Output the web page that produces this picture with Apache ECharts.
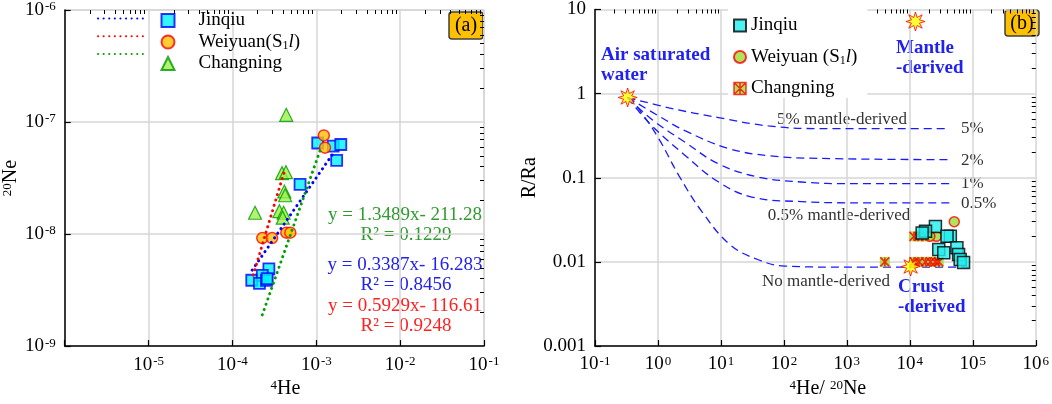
<!DOCTYPE html>
<html><head><meta charset="utf-8">
<script src="https://cdn.jsdelivr.net/npm/echarts@6/dist/echarts.min.js"></script>
<style>html,body{margin:0;padding:0;background:#fff}#c{width:1052px;height:404px}</style>
</head><body><div id="c"></div>
<script>
const FONT = 'Liberation Serif';

// ---------- Panel (a): 20Ne vs 4He ----------
const aJinqiu = [[1.04e-3,6.5e-8],[1.59e-3,6.1e-8],[1.96e-3,6.3e-8],[1.75e-3,4.55e-8],[6.4e-4,2.78e-8],
  [2.72e-4,4.9e-9],[1.7e-4,3.87e-9],[2.27e-4,4.28e-9],[2.1e-4,3.63e-9],[2.55e-4,3.87e-9],[2.6e-4,4.0e-9]];
const aWeiyuan = [[1.23e-3,7.6e-8],[1.27e-3,5.9e-8],[2.27e-4,9.2e-9],[2.97e-4,9.2e-9],[4.39e-4,1.03e-8],[4.9e-4,1.03e-8]];
const aChangning = [[4.38e-4,1.16e-7],[3.9e-4,3.5e-8],[4.35e-4,3.57e-8],[4.16e-4,2.4e-8],[4.25e-4,2.22e-8],
  [1.86e-4,1.55e-8],[3.63e-4,1.6e-8],[4.08e-4,1.55e-8],[3.98e-4,1.4e-8]];
const aFitJinqiu = [[1.72e-4,4.77e-9],[1.56e-3,5.15e-8]];
const aFitWeiyuan = [[1.77e-4,4.3e-9],[4.27e-4,3.87e-8]];
const aFitChangning = [[2.27e-4,1.9e-9],[1.14e-3,5.9e-8]];
const aXExp = [-6,-5,-4,-3,-2,-1];
const aYExp = [-9,-8,-7,-6];
const aEquations = [
  ['y = 1.3489x- 211.28','R\u00B2 = 0.1229','#2f9a2f'],
  ['y = 0.3387x- 16.283','R\u00B2 = 0.8456','#2222ee'],
  ['y = 0.5929x- 116.61','R\u00B2 = 0.9248','#ff2020']
];

// ---------- Panel (b): R/Ra vs 4He/20Ne ----------
const bJinqiu = [[25500,0.0264],[17740,0.0231],[15700,0.022],[44000,0.0201],[39000,0.0201],[28800,0.014],
  [34600,0.0128],[56000,0.0147],[59500,0.0122],[63100,0.0107],[71400,0.0098]];
const bWeiyuan = [[50800,0.030],[26400,0.0201],[20800,0.0201]];
const bChangning = [[11640,0.0201],[13970,0.0201],[17740,0.0201],[4010,0.01],[11640,0.01],[13970,0.01],
  [17740,0.01],[21300,0.01],[25500,0.01],[28800,0.01]];
const bEndMembers = [[0.33,0.9],[12300,7.2],[10300,0.0088]];
const bCurve5 = [[0.33,0.9],[1.49,0.678],[9.19,0.518],[56.6,0.413],[348,0.384],[41800,0.384]];
const bCurve2 = [[0.33,0.9],[1.04,0.54],[2.73,0.36],[13.2,0.223],[56.6,0.183],[348,0.17],[46000,0.164]];
const bCurve1 = [[0.33,0.9],[0.81,0.49],[2.73,0.263],[9.19,0.146],[39.3,0.102],[190,0.089],[1170,0.085],[44000,0.085]];
const bCurve05 = [[0.33,0.9],[0.72,0.45],[2.73,0.183],[9.19,0.089],[30.9,0.059],[190,0.052],[1170,0.0504],[44000,0.0504]];
const bCurve0 = [[0.33,0.9],[0.5,0.65],[1.04,0.288],[2.15,0.106],[5.01,0.0394],[14,0.016],[39.3,0.0106],[104,0.0089],[1170,0.00865],[97500,0.00865]];
const bXExp = [-1,0,1,2,3,4,5,6];
const bYLabels = ['0.001','0.01','0.1','1','10'];

// ---------- helpers ----------
function minorTicks(lo, hi) {
  const a = [];
  for (let e = lo; e < hi; e++) for (let m = 2; m <= 9; m++) a.push(+(m * Math.pow(10, e)).toPrecision(3));
  return a;
}
const supRich = { sup: { fontSize: 13, verticalAlign: 'top', fontFamily: FONT, color: '#000', padding: [0, 0, 0, 1] } };
const expFmt = (hideExp) => (v) => {
  const e = Math.round(Math.log10(v));
  return e === hideExp ? '' : '10{sup|' + e + '}';
};
function mainAxis(grid, min, max, fmt, name, nameGap, namePad) {
  return {
    gridIndex: grid, type: 'log', logBase: 10, min: min, max: max,
    axisLine: { show: true, lineStyle: { color: '#000', width: 1.5 } },
    axisTick: { show: true, inside: true, length: 6, lineStyle: { color: '#000', width: 1.2 } },
    axisLabel: { formatter: fmt, fontFamily: FONT, fontSize: 19, color: '#000', margin: 9, rich: supRich },
    splitLine: { show: true, lineStyle: { color: '#d6d6d6', width: 1.5 } },
    name: name, nameLocation: 'middle', nameGap: nameGap,
    nameTextStyle: { fontFamily: FONT, fontSize: 20, color: '#000', padding: namePad,
      rich: { sup: { fontSize: 13, verticalAlign: 'top', fontFamily: FONT, color: '#000' } } }
  };
}
function minorAxis(grid, min, max, ticks) {
  return {
    gridIndex: grid, type: 'log', logBase: 10, min: min, max: max,
    axisLine: { show: false }, axisLabel: { show: false }, splitLine: { show: false },
    axisTick: { show: true, inside: true, length: 4, customValues: ticks, lineStyle: { color: '#000', width: 1 } }
  };
}
const STAR = (() => {
  let d = '';
  for (let k = 0; k < 16; k++) {
    const ang = (k * 22.5 - 90) * Math.PI / 180;
    const r = k % 2 === 0 ? 10 : 4.6;
    d += (k === 0 ? 'M' : 'L') + (10 + r * Math.cos(ang)).toFixed(2) + ',' + (10 + r * Math.sin(ang)).toFixed(2);
  }
  return 'path://' + d + 'Z';
})();
const ASTER = 'path://M0,0L10,10M10,0L0,10M5,0L5,10';
const ASTER_SQ = 'path://M0,0L10,0L10,10L0,10ZM0,0L10,10M10,0L0,10M5,0L5,10';

const dotted = (c) => ({ color: c, width: 3, type: [0.1, 5.5], cap: 'round' });
const dashed = { color: '#1a1aff', width: 1.3, type: [8, 5] };
const curve = (name, data) => ({ name: name, type: 'line', xAxisIndex: 2, yAxisIndex: 2, data: data,
  symbol: 'none', smooth: 0.4, lineStyle: dashed, silent: true, z: 2 });

const legendFmt = {
  'Jinqiu': 'Jinqiu', 'Weiyuan': 'Weiyuan(S{sub|1}{it|l})', 'Changning': 'Changning',
  'Jinqiu ': 'Jinqiu', 'Weiyuan ': 'Weiyuan (S{sub|1}{it|l})', 'Changning ': 'Changning'
};
const legendRich = { sub: { fontSize: 12, fontFamily: FONT, verticalAlign: 'bottom', color: '#000' },
  it: { fontSize: 19, fontFamily: FONT, fontStyle: 'italic', color: '#000' } };
const legendText = { fontFamily: FONT, fontSize: 19, lineHeight: 19, color: '#000', rich: legendRich };
const legendTextPad = { fontFamily: FONT, fontSize: 19, lineHeight: 19, color: '#000', rich: legendRich, padding: [0, 0, 0, 19] };

const txt = (t, x, y, opts) => ({ type: 'text', silent: true, style: Object.assign({ text: t, x: x, y: y,
  font: '18px "Liberation Serif"', fill: '#000', textAlign: 'center', textVerticalAlign: 'middle' }, opts || {}) });
const blueBold = { font: 'bold 19px "Liberation Serif"', fill: '#2222ee', textAlign: 'left' };
const gray = { font: '17px "Liberation Serif"', fill: '#333' };

const graphics = [];
aEquations.forEach((eq, i) => {
  const yy = [215, 265, 306][i];
  graphics.push(txt(eq[0], 405, yy, { fill: eq[2], font: '19px "Liberation Serif"' }));
  graphics.push(txt(eq[1], 406, yy + 20, { fill: eq[2], font: '19px "Liberation Serif"' }));
});
graphics.push({ type: 'rect', shape: { x: 449, y: 12, width: 34, height: 27, r: 3 },
  style: { fill: '#ffc000', stroke: '#404040', lineWidth: 1.5 } });
graphics.push(txt('(a)', 466, 26, { font: '20px "Liberation Serif"' }));
graphics.push({ type: 'rect', shape: { x: 1005, y: 10, width: 34, height: 26, r: 3 },
  style: { fill: '#ffc000', stroke: '#404040', lineWidth: 1.5 } });
graphics.push(txt('(b)', 1022, 23.5, { font: '20px "Liberation Serif"' }));
graphics.push(txt('Air saturated', 601, 55, blueBold));
graphics.push(txt('water', 601, 75, blueBold));
graphics.push(txt('Mantle', 896, 48, blueBold));
graphics.push(txt('-derived', 896, 68, blueBold));
graphics.push(txt('Crust', 898, 287, blueBold));
graphics.push(txt('-derived', 898, 307, blueBold));
graphics.push(txt('5% mantle-derived', 842, 120, gray));
graphics.push(txt('0.5% mantle-derived', 839, 216, gray));
graphics.push(txt('No mantle-derived', 826, 282, gray));
[['5%',129],['2%',161],['1%',184],['0.5%',204]].forEach(p =>
  graphics.push(txt(p[0], 961, p[1], Object.assign({}, gray, { textAlign: 'left' }))));

const option = {
  animation: false,
  backgroundColor: '#fff',
  grid: [
    { left: 60.5, top: 10, width: 423.5, height: 340 },
    { left: 595, top: 8, width: 445, height: 341 }
  ],
  xAxis: [
    mainAxis(0, 1e-6, 0.1, expFmt(-6), '{sup|4}He', 30, [0, 0, 0, 22]),
    minorAxis(0, 1e-6, 0.1, minorTicks(-6, -1)),
    mainAxis(1, 0.1, 1e6, expFmt(999), '{sup|4}He/ {sup|20}Ne', 33, [0, 0, 0, 25]),
    minorAxis(1, 0.1, 1e6, minorTicks(-1, 6))
  ],
  yAxis: [
    mainAxis(0, 1e-9, 1e-6, expFmt(999), '{sup|20}Ne', 42, 0),
    minorAxis(0, 1e-9, 1e-6, minorTicks(-9, -6)),
    mainAxis(1, 0.001, 10, (v) => bYLabels[Math.round(Math.log10(v)) + 3], 'R/Ra', 46, 0),
    minorAxis(1, 0.001, 10, minorTicks(-3, 1))
  ],
  legend: [
    { left: 97, top: 11, orient: 'vertical', padding: 0, itemWidth: 50, itemHeight: 19, itemGap: 2.5,
      data: ['Jinqiu fit', 'Weiyuan fit', 'Changning fit'], formatter: () => '', textStyle: legendText,
      itemStyle: { opacity: 0, color: 'rgba(0,0,0,0)', borderColor: 'rgba(0,0,0,0)', borderWidth: 0 },
      selectedMode: false },
    { left: 160.5, top: 11, orient: 'vertical', padding: 0, itemWidth: 13, itemHeight: 13, itemGap: 2.5,
      data: ['Jinqiu', 'Weiyuan', 'Changning'], formatter: (n) => legendFmt[n], textStyle: legendTextPad,
      selectedMode: false },
    { left: 728, top: 8, orient: 'vertical', padding: [8, 10, 0, 5], backgroundColor: '#fff',
      itemWidth: 12, itemHeight: 12, itemGap: 12.5,
      data: ['Jinqiu ', 'Weiyuan ', { name: 'Changning ', icon: ASTER_SQ,
        itemStyle: { color: '#99dd33', borderColor: '#ff0000', borderWidth: 1.5 } }],
      formatter: (n) => legendFmt[n], textStyle: legendText, selectedMode: false }
  ],
  graphic: graphics,
  series: [
    { name: 'Jinqiu', type: 'scatter', xAxisIndex: 0, yAxisIndex: 0, data: aJinqiu, symbol: 'rect', symbolSize: 11,
      itemStyle: { color: '#00f2ff', borderColor: '#0000ff', borderWidth: 1.8 } },
    { name: 'Weiyuan', type: 'scatter', xAxisIndex: 0, yAxisIndex: 0, data: aWeiyuan, symbol: 'circle', symbolSize: 11,
      itemStyle: { color: '#ffc000', borderColor: '#ff0000', borderWidth: 1.5 } },
    { name: 'Changning', type: 'scatter', xAxisIndex: 0, yAxisIndex: 0, data: aChangning, symbol: 'triangle', symbolSize: 13,
      itemStyle: { color: '#9cf04a', borderColor: '#009900', borderWidth: 1.2 } },
    { name: 'Jinqiu fit', type: 'line', xAxisIndex: 0, yAxisIndex: 0, data: aFitJinqiu, symbol: 'none',
      itemStyle: { color: '#0000ff' }, lineStyle: dotted('#0000ff') },
    { name: 'Weiyuan fit', type: 'line', xAxisIndex: 0, yAxisIndex: 0, data: aFitWeiyuan, symbol: 'none',
      itemStyle: { color: '#ff0000' }, lineStyle: dotted('#ff0000') },
    { name: 'Changning fit', type: 'line', xAxisIndex: 0, yAxisIndex: 0, data: aFitChangning, symbol: 'none',
      itemStyle: { color: '#00a000' }, lineStyle: dotted('#00a000') },

    curve('5% mantle-derived', bCurve5),
    curve('2% mantle-derived', bCurve2),
    curve('1% mantle-derived', bCurve1),
    curve('0.5% mantle-derived', bCurve05),
    curve('No mantle-derived', bCurve0),
    { name: 'Changning ', type: 'scatter', xAxisIndex: 2, yAxisIndex: 2, data: bChangning, symbol: 'rect', symbolSize: 10,
      itemStyle: { color: '#99dd33' } },
    { name: 'Changning*', type: 'scatter', xAxisIndex: 2, yAxisIndex: 2, data: bChangning, symbol: ASTER, symbolSize: 9,
      itemStyle: { color: 'rgba(0,0,0,0)', borderColor: '#ff0000', borderWidth: 1.6 } },
    { name: 'Weiyuan ', type: 'scatter', xAxisIndex: 2, yAxisIndex: 2, data: bWeiyuan, symbol: 'circle', symbolSize: 10,
      itemStyle: { color: '#99dd33', borderColor: '#ff0000', borderWidth: 1.5 } },
    { name: 'Jinqiu ', type: 'scatter', xAxisIndex: 2, yAxisIndex: 2, data: bJinqiu, symbol: 'rect', symbolSize: 12,
      itemStyle: { color: '#22eeee', borderColor: '#000', borderWidth: 1.5 } },
    { name: 'End members', type: 'scatter', xAxisIndex: 2, yAxisIndex: 2, data: bEndMembers, symbol: STAR, symbolSize: 19,
      itemStyle: { color: '#ffff00', borderColor: '#ff0000', borderWidth: 1 }, z: 5 }
  ]
};
const chart = echarts.init(document.getElementById('c'), null, { renderer: 'canvas' });
chart.setOption(option);
</script></body></html>
